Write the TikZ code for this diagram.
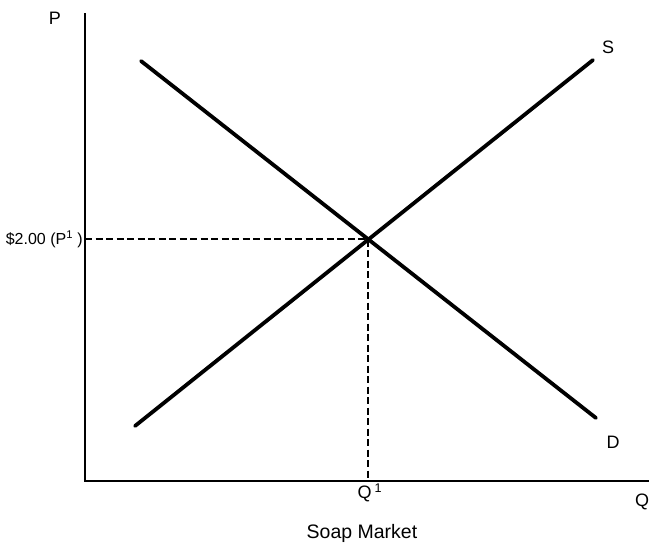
\documentclass[tikz,border=0pt]{standalone}
\usepackage{fontspec}
\setmainfont{Liberation Sans}
\usetikzlibrary{positioning}

\begin{document}
\begin{tikzpicture}[x=1pt, y=-1pt, font=\fontsize{18}{20}\selectfont,
    axisline/.style={line width=2.8pt},
    curveline/.style={line width=3.8pt, line cap=round},
    guideline/.style={line width=2.4pt, dash pattern=on 7pt off 3.5pt}]
  \useasboundingbox (0,0) rectangle (649,546);

  % axes
  \coordinate (origin) at (85,481);
  \coordinate (ptop) at (85,13);
  \coordinate (qend) at (649,481);
  \draw[axisline] (ptop) -- (origin) -- (qend);
  \node (plabel) at (55,18) {P};
  \node (qlabel) at (642,502) {Q};

  % supply and demand
  \coordinate (slow) at (135,426);
  \coordinate (shigh) at (593,60);
  \coordinate (dhigh) at (141,61);
  \coordinate (dlow) at (596,418);
  \draw[curveline] (slow) -- (shigh);
  \draw[curveline] (dhigh) -- (dlow);
  \node (slabel) at (608,47) {S};
  \node (dlabel) at (613,442) {D};

  % equilibrium
  \coordinate (eq) at (368,239);
  \coordinate (peq) at (85,239);
  \coordinate (qeq) at (368,481);
  \draw[guideline] (peq) -- (eq) -- (qeq);
  \node[anchor=east, inner sep=2pt, font=\fontsize{16}{18}\selectfont] (price) at (peq) {\$2.00 (P\textsuperscript{1} )};
  \node (qty) at (370,493) {Q\,\textsuperscript{1}};

  \node[font=\fontsize{19.5}{22}\selectfont] (title) at (362,533) {Soap Market};
\end{tikzpicture}
\end{document}
